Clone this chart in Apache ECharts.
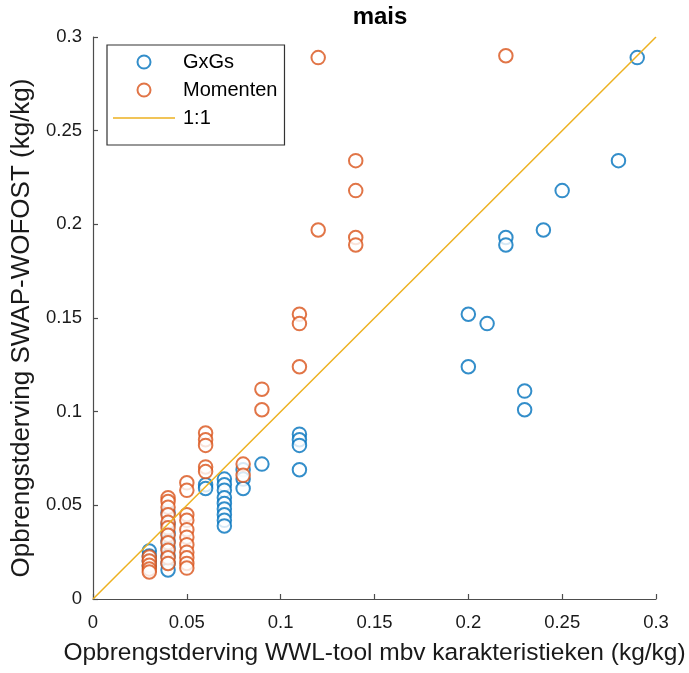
<!DOCTYPE html>
<html>
<head>
<meta charset="utf-8">
<script src="https://cdn.jsdelivr.net/npm/echarts@6/dist/echarts.min.js"></script>
<style>html,body{margin:0;padding:0;background:#fff;}#c{width:689px;height:673px;}</style>
</head>
<body>
<div id="c"></div>
<script>
const titleText = 'mais';
const xName = 'Opbrengstderving WWL-tool mbv karakteristieken (kg/kg)';
const yName = 'Opbrengstderving SWAP-WOFOST (kg/kg)';
const seriesNames = ['GxGs', 'Momenten', '1:1'];
const tickValues = [0, 0.05, 0.1, 0.15, 0.2, 0.25, 0.3];

const gxgsX = [0.29,0.28,0.25,0.24,0.22,0.22,0.20,0.21,0.20,0.23,0.23,
  0.11,0.11,0.11,0.11,0.09,0.08,0.08,0.08,
  0.07,0.07,0.07,0.07,0.07,0.07,0.07,0.07,0.07,
  0.06,0.06,
  0.04,0.04,0.04,0.04,0.04,0.04,0.04,0.04,
  0.03,0.03,0.03,0.03];
const gxgsY = [0.289,0.234,0.218,0.197,0.193,0.189,0.152,0.147,0.124,0.111,0.101,
  0.088,0.085,0.082,0.069,0.072,0.069,0.064,0.059,
  0.064,0.061,0.058,0.054,0.051,0.048,0.045,0.042,0.039,
  0.061,0.059,
  0.046,0.040,0.035,0.031,0.027,0.023,0.019,0.0155,
  0.0256,0.023,0.0203,0.0176];

const momX = [0.12,0.22,0.14,0.14,0.14,0.14,0.12,0.11,0.11,0.11,0.09,0.09,0.08,0.08,
  0.06,0.06,0.06,0.06,0.06,
  0.05,0.05,0.05,0.05,0.05,0.05,0.05,0.05,0.05,0.05,0.05,
  0.04,0.04,0.04,0.04,0.04,0.04,0.04,0.04,0.04,0.04,0.04,
  0.03,0.03,0.03,0.03,0.03];
const momY = [0.289,0.290,0.234,0.218,0.193,0.189,0.197,0.152,0.147,0.124,0.112,0.101,0.072,0.066,
  0.0886,0.085,0.082,0.0705,0.068,
  0.062,0.058,0.045,0.042,0.037,0.033,0.029,0.025,0.022,0.019,0.0165,
  0.054,0.052,0.049,0.045,0.041,0.038,0.034,0.030,0.026,0.022,0.019,
  0.0224,0.0203,0.018,0.016,0.0144];

const lineX = [0, 0.3];
const lineY = [0, 0.3];

const zip = (a, b) => a.map((v, i) => [v, b[i]]);
const font = "'Liberation Sans', Arial, Helvetica, sans-serif";
const axisColor = '#4d4d4d';
const fmt = v => String(parseFloat(v.toFixed(2)));

const valueAxis = (name, gap, margin, nameSize, namePad) => ({
  type: 'value', min: tickValues[0], max: tickValues[tickValues.length - 1], interval: 0.05,
  name: name, nameLocation: 'middle', nameGap: gap,
  nameTextStyle: { fontFamily: font, fontSize: nameSize, color: '#1a1a1a', padding: namePad },
  axisLine: { show: true, lineStyle: { color: axisColor, width: 1.2 } },
  axisTick: { show: true, inside: true, length: 5, lineStyle: { color: axisColor, width: 1.2 } },
  axisLabel: { fontFamily: font, fontSize: 18.5, color: '#1a1a1a', margin: margin, formatter: fmt },
  splitLine: { show: false }
});

const chart = echarts.init(document.getElementById('c'));
chart.setOption({
  animation: false,
  backgroundColor: '#fff',
  title: { text: titleText, left: 375, textAlign: 'center', top: 0,
    textStyle: { fontFamily: font, fontSize: 24, fontWeight: 'bold', color: '#000' } },
  grid: { left: 93, top: 37, width: 563, height: 562 },
  xAxis: valueAxis(xName, 42, 14, 24.5, 0),
  yAxis: valueAxis(yName, 56, 11, 26, [0, 20, 0, 0]),
  legend: {
    orient: 'vertical', left: 107, top: 45,
    padding: [7, 7, 17, 6],
    itemWidth: 62, itemHeight: 13, itemGap: 8,
    borderColor: '#333', borderWidth: 1.2, backgroundColor: '#fff',
    textStyle: { fontFamily: font, fontSize: 20, lineHeight: 20, color: '#000', padding: [0, 0, 0, 3] },
    data: [
      { name: seriesNames[0] },
      { name: seriesNames[1] },
      { name: seriesNames[2], icon: 'path://M0,0 L60,0 L60,1.5 L0,1.5 Z' }
    ]
  },
  series: [
    { name: seriesNames[0], type: 'scatter', data: zip(gxgsX, gxgsY),
      symbol: 'emptyCircle', symbolSize: 13.5,
      itemStyle: { color: '#0072BD', borderColor: '#0072BD', borderWidth: 1.6 }, z: 2 },
    { name: seriesNames[1], type: 'scatter', data: zip(momX, momY),
      symbol: 'emptyCircle', symbolSize: 13.5,
      itemStyle: { color: '#D95319', borderColor: '#D95319', borderWidth: 1.6 }, z: 3 },
    { name: seriesNames[2], type: 'line', data: zip(lineX, lineY),
      symbol: 'none', showSymbol: false, lineStyle: { color: '#EDB120', width: 1.5 },
      itemStyle: { color: '#EDB120' }, z: 4 }
  ]
});
</script>
</body>
</html>
